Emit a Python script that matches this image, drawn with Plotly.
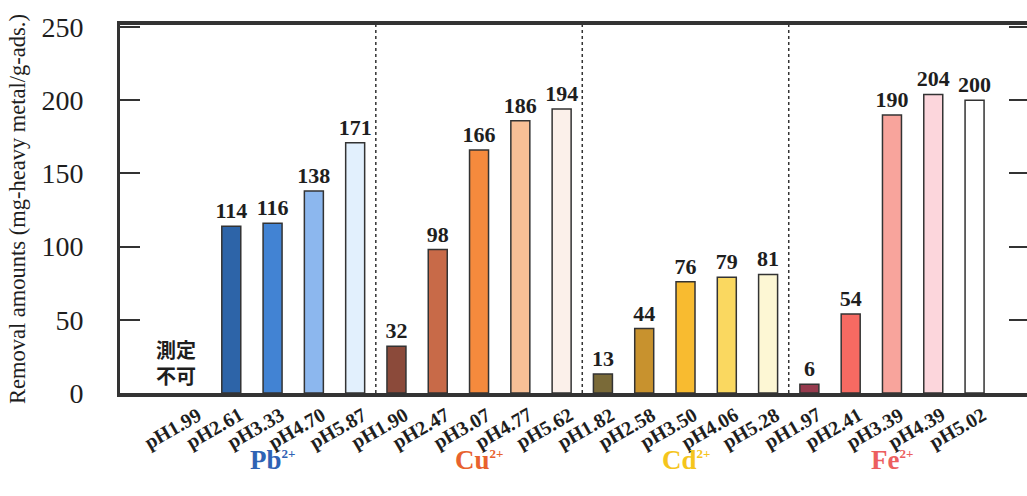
import plotly.graph_objects as go

# pH of each test solution, grouped by metal ion
ph_labels = ["pH1.99", "pH2.61", "pH3.33", "pH4.70", "pH5.87",
             "pH1.90", "pH2.47", "pH3.07", "pH4.77", "pH5.62",
             "pH1.82", "pH2.58", "pH3.50", "pH4.06", "pH5.28",
             "pH1.97", "pH2.41", "pH3.39", "pH4.39", "pH5.02"]
# removal amounts (mg-heavy metal / g-ads.); None = not measurable
removal = [None, 114, 116, 138, 171,
           32, 98, 166, 186, 194,
           13, 44, 76, 79, 81,
           6, 54, 190, 204, 200]
bar_colors = ["#ffffff", "#2d64a8", "#4283d3", "#8cb7ee", "#e2f0fd",
              "#8b4a3a", "#c86a48", "#f58a3d", "#f7bf96", "#fbf0ea",
              "#7a6a38", "#c8922e", "#f8bb30", "#fad860", "#fdf7d4",
              "#963a4d", "#f66a62", "#f8a49c", "#fcd6dc", "#ffffff"]
metals = ["Pb", "Cu", "Cd", "Fe"]
metal_colors = ["#2f62b4", "#e8622e", "#f5c51c", "#ec5f5f"]
group_size = 5

serif = "Liberation Serif, Times New Roman, serif"
ink = "#1e1e1e"

fig = go.Figure()
fig.add_trace(go.Bar(
    x=ph_labels,
    y=removal,
    width=0.46,
    marker=dict(color=bar_colors, line=dict(color="#333333", width=1.5)),
    text=["" if v is None else f"<b>{v}</b>" for v in removal],
    textposition="outside",
    constraintext="none",
    textfont=dict(family=serif, size=22, color=ink),
    cliponaxis=False,
    hoverinfo="x+y",
))
# invisible trace to carry the right-hand tick marks
fig.add_trace(go.Scatter(x=[ph_labels[0]], y=[0], yaxis="y2",
                         mode="markers", marker=dict(opacity=0),
                         showlegend=False, hoverinfo="skip"))

# dashed separators between metal groups
for g in range(1, len(metals)):
    xs = g * group_size - 0.5
    fig.add_shape(type="line", xref="x", yref="paper", x0=xs, x1=xs, y0=0, y1=1,
                  line=dict(color="#333333", width=1.5, dash="dot"), layer="below")

# slanted pH labels under the bars
for i, lab in enumerate(ph_labels):
    fig.add_annotation(x=i + 0.45, y=-0.02, xref="x", yref="paper",
                       showarrow=False, textangle=-30,
                       xanchor="right", yanchor="top",
                       text=f"<b>{lab}</b>",
                       font=dict(family=serif, size=20, color=ink))

# metal ion names under each group
for i, (m, c) in enumerate(zip(metals, metal_colors)):
    fig.add_annotation(x=i * group_size + (group_size - 1) / 2, y=-0.182,
                       xref="x", yref="paper", showarrow=False,
                       xanchor="center", yanchor="middle",
                       text=f"<b>{m}<sup><span style='font-size:13px'>2+</span></sup></b>",
                       font=dict(family=serif, size=27, color=c))

# "not measurable" note for the missing value
fig.add_annotation(x=-0.34, y=0.084, xref="x", yref="paper",
                   showarrow=False, text="<b>測定<br>不可</b>", align="center",
                   xanchor="center", yanchor="middle",
                   font=dict(family="Noto Sans CJK JP", size=20, color=ink))

# vertical axis title
fig.add_annotation(x=-103 / 907, y=0.5, xref="paper", yref="paper",
                   showarrow=False, textangle=-90, xanchor="center", yanchor="middle",
                   text="Removal amounts (mg-heavy metal/g-ads.)",
                   font=dict(family=serif, size=22.5, color=ink))

fig.update_layout(
    width=1027, height=496,
    margin=dict(l=120, r=0, t=25, b=103),
    paper_bgcolor="white", plot_bgcolor="white",
    showlegend=False,
    bargap=0.5,
    xaxis=dict(
        type="category",
        range=[-1.695, 20.27],
        showticklabels=False,
        ticks="", showgrid=False,
        showline=True, linecolor="#333333", linewidth=4, mirror=True,
        zeroline=False,
    ),
    yaxis=dict(
        range=[0, 251.4],
        tickvals=[0, 50, 100, 150, 200, 250],
        ticks="inside", ticklen=20, tickwidth=2, tickcolor="#333333",
        ticklabelstandoff=28,
        tickfont=dict(family=serif, size=28, color=ink),
        showgrid=False, zeroline=False,
        showline=True, linecolor="#333333", linewidth=3,
    ),
    yaxis2=dict(
        overlaying="y", side="right", range=[0, 251.4],
        tickvals=[50, 100, 150, 200, 250],
        ticks="inside", ticklen=18, tickwidth=2, tickcolor="#333333",
        showticklabels=False, showgrid=False, zeroline=False, showline=False,
    ),
)

fig.write_html("out.html")
